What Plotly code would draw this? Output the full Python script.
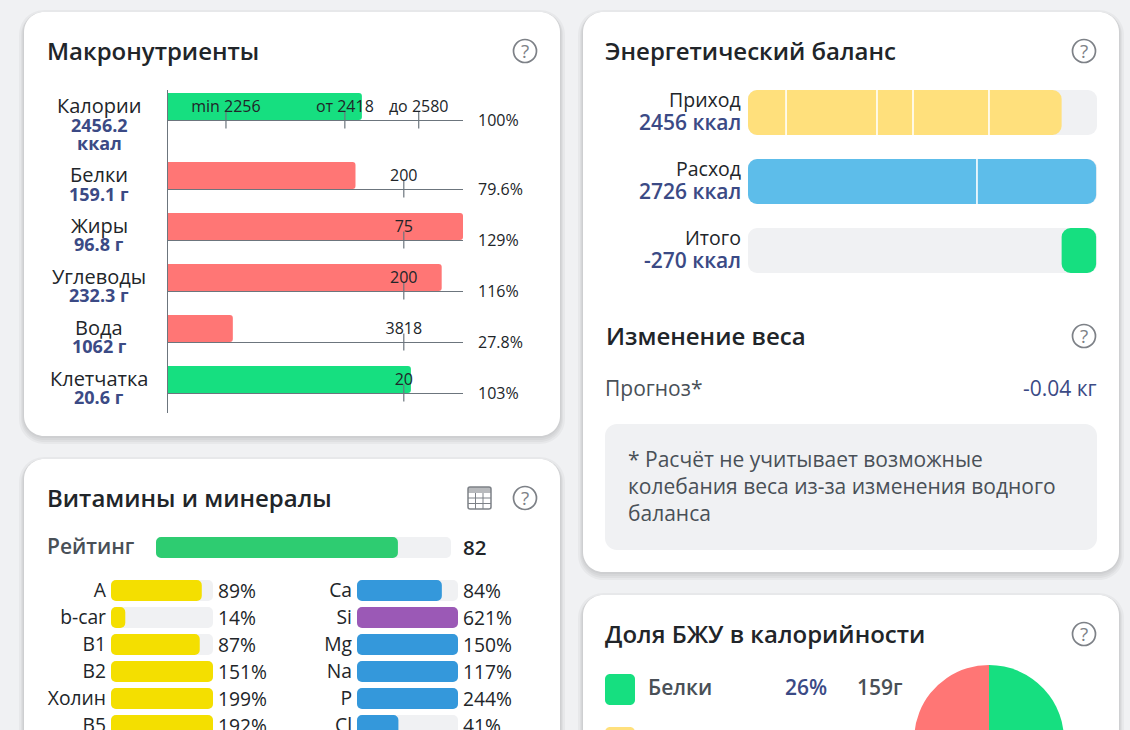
import plotly.graph_objects as go

W = 1130
H = 830  # page runs on below the window, the photo only shows the first 730px

# macronutrients
macro_names = ["Калории", "Белки", "Жиры", "Углеводы", "Вода", "Клетчатка"]
macro_amounts = [["2456.2", "ккал"], ["159.1 г"], ["96.8 г"], ["232.3 г"], ["1062 г"], ["20.6 г"]]
macro_percent = ["100%", "79.6%", "129%", "116%", "27.8%", "103%"]
macro_fill = [82.3, 79.6, 129, 116, 27.8, 103]
macro_ok = [True, False, False, False, False, True]
macro_targets = [[24.9, 75.1, 106.3], [100], [100], [100], [100], [100]]
macro_target_labels = [["min 2256", "от 2418", "до 2580"], ["200"], ["75"], ["200"], ["3818"], ["20"]]

# energy balance
energy_names = ["Приход", "Расход", "Итого"]
energy_labels = ["2456 ккал", "2726 ккал", "-270 ккал"]
intake_parts = [298, 712, 282, 595, 569]
burn_parts = [1793, 933]
balance = -270

# vitamins and minerals
rating = 82
vit_names = ["A", "b-car", "B1", "B2", "Холин", "B5"]
vit_values = [89, 14, 87, 151, 199, 192]
min_names = ["Ca", "Si", "Mg", "Na", "P", "Cl"]
min_values = [84, 621, 150, 117, 244, 41]
min_colors = ["#3498db", "#9b59b6", "#3498db", "#3498db", "#3498db", "#3498db"]

# share of calories
pie_names = ["Белки", "Жиры", "Углеводы"]
pie_values = [26, 36, 38]

GREEN = "#16df80"
RED = "#ff7675"
SOFT_YELLOW = "#ffe07c"
SKY = "#5dbdea"
TRACK = "#f0f1f3"
DARK = "#212529"
GRAY = "#495057"
NAVY = "#3b4a85"
LINE = "#6c757d"
ICON = "#7d8187"
FONT = "Open Sans"


def fx(x):
    return x / W


def fy(y):
    return 1 - y / H


def rounded(x0, y0, x1, y1, r):
    k = r * 0.45
    pts = [
        ("M", x0 + r, y0), ("L", x1 - r, y0),
        ("C", x1 - k, y0, x1, y0 + k, x1, y0 + r), ("L", x1, y1 - r),
        ("C", x1, y1 - k, x1 - k, y1, x1 - r, y1), ("L", x0 + r, y1),
        ("C", x0 + k, y1, x0, y1 - k, x0, y1 - r), ("L", x0, y0 + r),
        ("C", x0, y0 + k, x0 + k, y0, x0 + r, y0),
    ]
    path = ""
    for p in pts:
        nums = p[1:]
        coords = []
        for i in range(0, len(nums), 2):
            coords.append(f"{fx(nums[i]):.5f},{fy(nums[i + 1]):.5f}")
        path += p[0] + " ".join(coords) + " "
    return path + "Z"


shapes = []
notes = []
fig = go.Figure()
axis_count = 0


def box(x0, y0, x1, y1, r, color, opacity=1):
    shapes.append(dict(type="path", path=rounded(x0, y0, x1, y1, r), xref="paper", yref="paper",
                       fillcolor=color, opacity=opacity, line_width=0, layer="below"))


def card(x0, y0, x1, y1):
    for grow, off in [(5, 3), (3, 3), (2, 2), (1, 1)]:
        box(x0 - grow, y0 - grow + off, x1 + grow, y1 + grow + off, 20 + grow, "#000000", 0.035)
    box(x0, y0, x1, y1, 20, "white")


def note(x, y, text, size=18, color=DARK, anchor="left", weight=400):
    notes.append(dict(x=fx(x), y=fy(y), xref="paper", yref="paper", text=text, showarrow=False,
                      xanchor=anchor, yanchor="middle", borderpad=0, borderwidth=0,
                      font=dict(family=FONT, size=size, color=color, weight=weight)))


def help_icon(cx, cy):
    shapes.append(dict(type="circle", xref="paper", yref="paper", x0=fx(cx - 11.5), x1=fx(cx + 11.5),
                       y0=fy(cy - 11.5), y1=fy(cy + 11.5), line=dict(color=ICON, width=1.7), layer="below"))
    note(cx, cy, "?", size=19, color=ICON, anchor="center")


def add_axes(x0, x1, top, bottom, xrange, yrange, xopts=None, yopts=None):
    global axis_count
    axis_count += 1
    n = "" if axis_count == 1 else str(axis_count)
    xa = dict(domain=[fx(x0), fx(x1)], range=xrange, anchor="y" + n, fixedrange=True, showgrid=False,
              zeroline=False, showticklabels=False, ticks="", showline=False)
    ya = dict(domain=[fy(bottom), fy(top)], range=yrange, anchor="x" + n, fixedrange=True, showgrid=False,
              zeroline=False, showticklabels=False, ticks="", showline=False)
    xa.update(xopts or {})
    ya.update(yopts or {})
    fig.update_layout({"xaxis" + n: xa, "yaxis" + n: ya})
    return "x" + n, "y" + n


# page furniture
card(24, 12, 560, 436)
card(24, 459, 560, H + 60)
card(583, 12, 1119, 572)
card(583, 595, 1119, H + 60)

note(47, 50.5, "Макронутриенты", 24, DARK, weight=600)
note(47, 497, "Витамины и минералы", 24, DARK, weight=600)
note(605, 50.5, "Энергетический баланс", 24, DARK, weight=600)
note(605.5, 335.5, "Изменение веса", 24, DARK, weight=600)
note(605, 633, "Доля БЖУ в калорийности", 24, DARK, weight=600)
for c in [(525, 51), (525, 498), (1084, 51), (1084, 336), (1084, 634)]:
    help_icon(*c)

# table icon next to the vitamins title
shapes.append(dict(type="path", path=rounded(468, 487, 491, 509, 2), xref="paper", yref="paper",
                   line=dict(color=ICON, width=1.5), layer="below"))
shapes.append(dict(type="rect", xref="paper", yref="paper", x0=fx(468), x1=fx(491), y0=fy(487), y1=fy(493),
                   fillcolor=ICON, line_width=0, opacity=0.55, layer="below"))
for v in [475.5, 483]:
    shapes.append(dict(type="line", xref="paper", yref="paper", x0=fx(v), x1=fx(v), y0=fy(493), y1=fy(509),
                       line=dict(color=ICON, width=1), layer="below"))
for v in [498, 503.5]:
    shapes.append(dict(type="line", xref="paper", yref="paper", x0=fx(468), x1=fx(491), y0=fy(v), y1=fy(v),
                       line=dict(color=ICON, width=1), layer="below"))

# macronutrient rows, one small axis pair per row because the first row is taller
row_base = [120, 189, 240, 291, 342, 393]
row_max = 125
shapes.append(dict(type="line", xref="paper", yref="paper", x0=fx(167.5), x1=fx(167.5), y0=fy(90), y1=fy(413),
                   line=dict(color=LINE, width=1)))
for i, name in enumerate(macro_names):
    b = row_base[i]
    xa, ya = add_axes(167, 463, b - 27, b, [0, row_max], [0, 1],
                      xopts=dict(showline=True, linecolor=LINE, linewidth=1))
    fig.add_trace(go.Bar(x=[min(macro_fill[i], row_max)], y=[0.5], width=[1], orientation="h", xaxis=xa, yaxis=ya,
                         marker=dict(color=GREEN if macro_ok[i] else RED, cornerradius=3, line_width=0)))
    fig.add_trace(go.Scatter(x=macro_targets[i], y=[0] * len(macro_targets[i]), xaxis=xa, yaxis=ya, mode="markers",
                             cliponaxis=False,
                             marker=dict(symbol="line-ns", size=12, line=dict(color=LINE, width=1.2))))
    # small see-through marker only sets how far the label sits above the axis
    fig.add_trace(go.Scatter(x=macro_targets[i], y=[0] * len(macro_targets[i]), xaxis=xa, yaxis=ya, mode="markers+text",
                             cliponaxis=False, text=macro_target_labels[i], textposition="top center",
                             textfont=dict(family=FONT, size=16, color=DARK),
                             marker=dict(size=5, opacity=0)))
    amounts = macro_amounts[i]
    top = b - 14.5
    note(99, top, name, 20, DARK, anchor="center")
    for j, a in enumerate(amounts):
        note(99, top + 19 + j * 18, a, 18, NAVY, anchor="center", weight=700)
    note(478, b, macro_percent[i], 16, DARK)

# energy balance
energy_max = 2733
xa, ya = add_axes(748, 1097, 78, 285, [0, energy_max], [2.5, -0.5], yopts=dict(type="category", categoryorder="array",
                                                                                categoryarray=energy_names))
bar_h = 45 / 69
fig.add_trace(go.Bar(x=[energy_max] * 3, y=energy_names, base=0, width=bar_h, orientation="h", xaxis=xa, yaxis=ya,
                     marker=dict(color=TRACK, cornerradius=9, line_width=0)))
fig.add_trace(go.Bar(x=[sum(intake_parts), sum(burn_parts), abs(balance)], y=energy_names,
                     base=[0, 0, sum(intake_parts)], width=bar_h, orientation="h", xaxis=xa, yaxis=ya,
                     marker=dict(color=[SOFT_YELLOW, SKY, GREEN], cornerradius=9, line_width=0)))
for row, parts in [("Приход", intake_parts), ("Расход", burn_parts)]:
    edges = []
    total = 0
    for p in parts[:-1]:
        total += p
        edges.append(total)
    fig.add_trace(go.Scatter(x=edges, y=[row] * len(edges), xaxis=xa, yaxis=ya, mode="markers",
                             marker=dict(symbol="line-ns", size=45, line=dict(color="white", width=1.6))))
for i, name in enumerate(energy_names):
    note(741, 100 + i * 69, name, 19.5, DARK, anchor="right")
    note(741, 122 + i * 69, energy_labels[i], 21, NAVY, anchor="right", weight=600)

# weight change
note(605, 387.5, "Прогноз*", 21, GRAY)
note(1097, 387.5, "-0.04 кг", 21, NAVY, anchor="right")
box(605, 424, 1097, 550, 12, TRACK)
note(628, 459, "* Расчёт не учитывает возможные", 21, GRAY)
note(628, 486, "колебания веса из-за изменения водного", 21, GRAY)
note(628, 513, "баланса", 21, GRAY)

# rating
note(47, 546, "Рейтинг", 21, GRAY, weight=600)
xa, ya = add_axes(156, 451, 537, 558, [0, 100], [-0.5, 0.5], yopts=dict(type="category"))
fig.add_trace(go.Bar(x=[100], y=["Рейтинг"], base=0, width=1, orientation="h", xaxis=xa, yaxis=ya,
                     marker=dict(color=TRACK, cornerradius=5, line_width=0)))
fig.add_trace(go.Bar(x=[rating], y=["Рейтинг"], base=0, width=1, orientation="h", xaxis=xa, yaxis=ya,
                     marker=dict(color="#2ecc71", cornerradius=5, line_width=0)))
note(463, 546.5, str(rating), 20.5, DARK, weight=600)


# vitamin and mineral columns
def column(x0, x1, names, values, colors):
    top = 577
    bottom = 577 + 27 * len(names)
    xa, ya = add_axes(x0, x1, top, bottom, [0, 100], [len(names) - 0.5, -0.5], yopts=dict(
        type="category", categoryorder="array", categoryarray=names, showticklabels=True, ticklabelstandoff=4,
        tickfont=dict(family=FONT, size=19.3, color=DARK)))
    fig.add_trace(go.Bar(x=[100] * len(names), y=names, base=0, width=21 / 27, orientation="h", xaxis=xa, yaxis=ya,
                         marker=dict(color=TRACK, cornerradius=5, line_width=0)))
    fig.add_trace(go.Bar(x=[min(v, 100) for v in values], y=names, base=0, width=21 / 27, orientation="h", xaxis=xa, yaxis=ya,
                         marker=dict(color=colors, cornerradius=5, line_width=0)))
    for n, v in zip(names, values):
        notes.append(dict(x=100, y=n, xref=xa, yref=ya, text=f"{v}%", showarrow=False, xanchor="left", xshift=3,
                          font=dict(family=FONT, size=19.3, color=DARK)))


column(111, 213, vit_names, vit_values, ["#f4df00"] * len(vit_names))
column(357, 458, min_names, min_values, min_colors)

# calorie share legend and pie
box(605, 674, 635, 705, 5, GREEN)
note(648, 687, pie_names[0], 21, GRAY, weight=600)
note(785, 687, f"{pie_values[0]}%", 21, NAVY, weight=600)
note(857, 687, "159г", 21, GRAY, weight=600)
box(605, 727, 635, 758, 5, SOFT_YELLOW)
fig.add_trace(go.Pie(labels=pie_names, values=pie_values, sort=False, direction="clockwise", rotation=0,
                     textinfo="none", hoverinfo="skip", domain=dict(x=[fx(914), fx(1064)], y=[fy(815), fy(665)]),
                     marker=dict(colors=[GREEN, SOFT_YELLOW, RED], line_width=0)))

fig.update_layout(width=W, height=H, margin=dict(l=0, r=0, t=0, b=0, pad=0), paper_bgcolor=TRACK,
                  plot_bgcolor="rgba(0,0,0,0)", barmode="overlay", showlegend=False, hovermode=False,
                  font=dict(family=FONT, color=DARK), shapes=shapes, annotations=notes)

fig.write_html("out.html", config=dict(displayModeBar=False),
               post_script="document.body.style.margin='0';document.documentElement.style.overflow='hidden';")
